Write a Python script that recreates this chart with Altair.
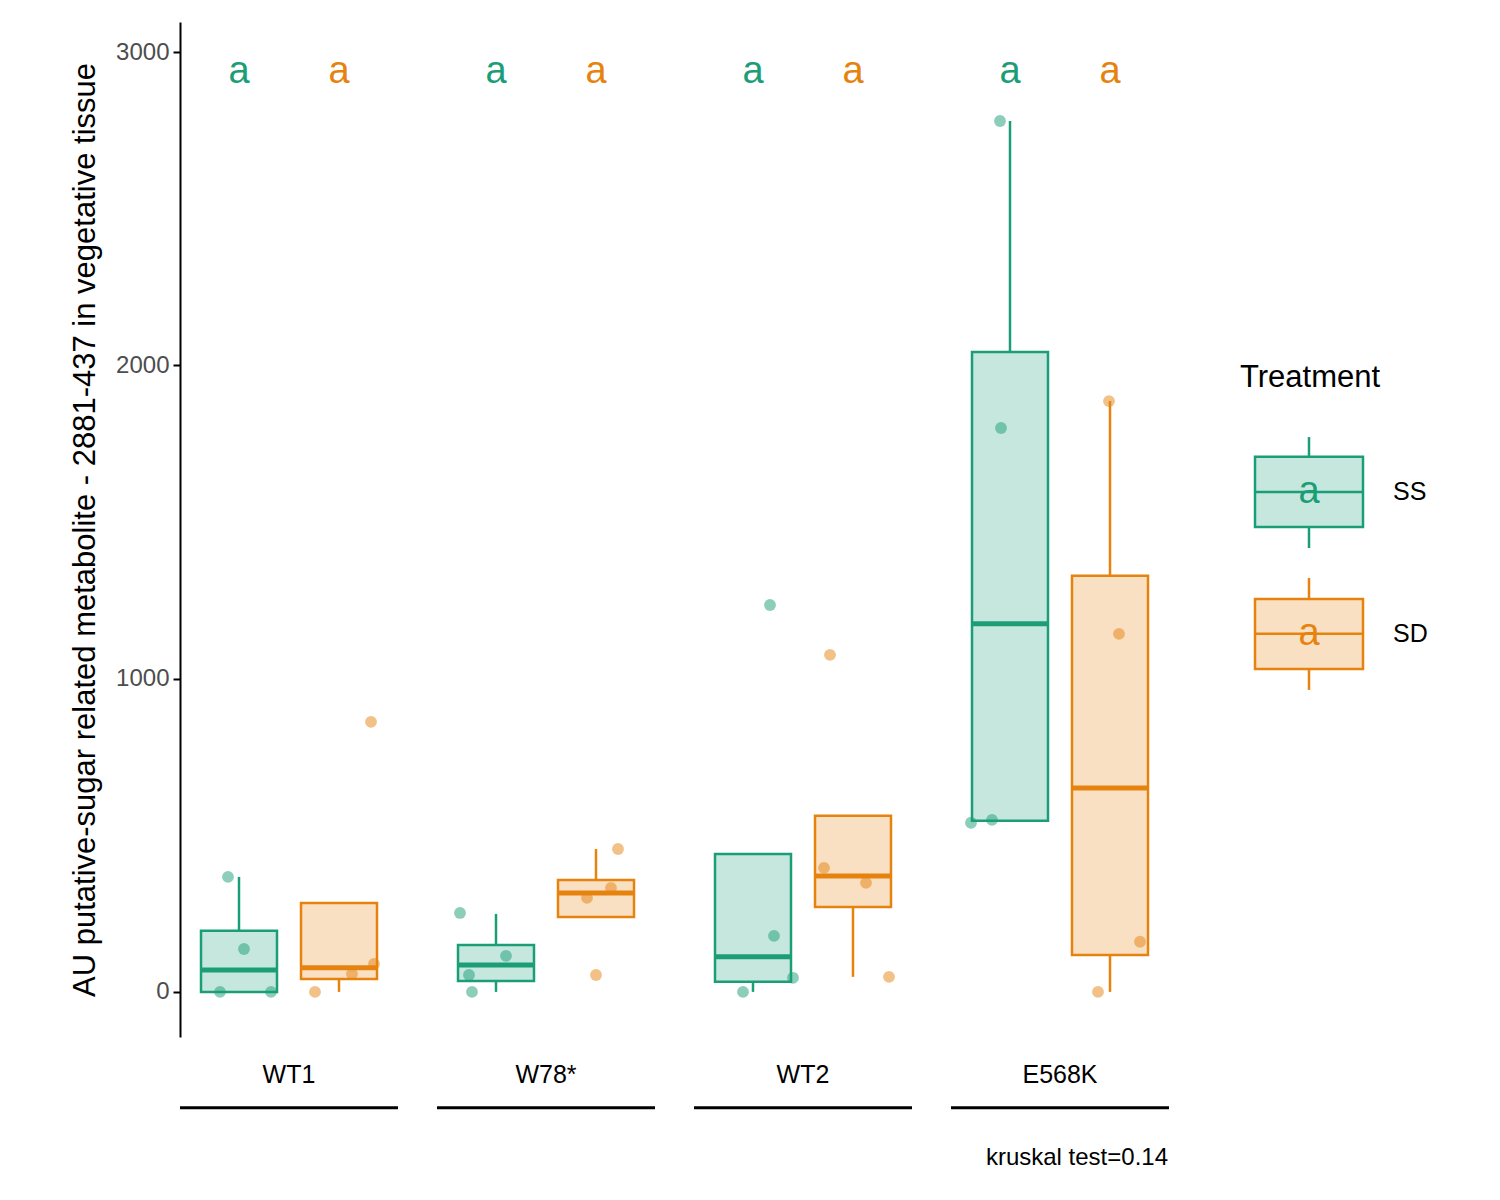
import altair as alt
import pandas as pd

genotypes = ["WT1", "W78*", "WT2", "E568K"]
treatments = ["SS", "SD"]
colors = ["#1b9e77", "#e6830f"]

# box stats per (genotype, treatment): lower whisker, q1, median, q3, upper whisker
lo  = [0, 0,   0,   239, 0,   48,  546,  0]
q1  = [0, 41,  35,  239, 32,  271, 546,  118]
med = [70, 77, 86,  316, 112, 370, 1175, 651]
q3  = [195, 284, 150, 357, 440, 562, 2043, 1328]
hi  = [367, 284, 249, 456, 440, 562, 2780, 1886]

# raw points and horizontal jitter, 4 per box
values = [
    [367, 137, 0, 0], [0, 57, 89, 862],
    [252, 115, 54, 0], [456, 332, 300, 54],
    [1235, 179, 45, 0], [1076, 396, 348, 48],
    [2780, 1800, 549, 540], [1886, 1143, 160, 0],
]
jitter = [
    [-0.11, 0.05, -0.19, 0.32], [-0.24, 0.13, 0.35, 0.32],
    [-0.36, 0.10, -0.27, -0.24], [0.22, 0.15, -0.09, 0.0],
    [0.17, 0.21, 0.40, -0.10], [-0.23, -0.29, 0.13, 0.36],
    [-0.10, -0.09, -0.18, -0.39], [-0.01, 0.09, 0.30, -0.12],
]
letters = ["a"] * 8

group_gap, pair_gap, half = 2.57, 1.0, 0.38
rows, pts = [], []
for i in range(8):
    g, t = i // 2, i % 2
    cx = g * group_gap + t * pair_gap
    rows.append(dict(Treatment=treatments[t], x=cx, xl=cx - half, xr=cx + half,
                     lo=lo[i], q1=q1[i], med=med[i], q3=q3[i], hi=hi[i], letter=letters[i]))
    for v, j in zip(values[i], jitter[i]):
        pts.append(dict(Treatment=treatments[t], x=cx + j, y=v))
boxes = pd.DataFrame(rows)
points = pd.DataFrame(pts)

xs = alt.Scale(domain=[-0.59, 9.31], nice=False, zero=False)
ys = alt.Scale(domain=[-144, 3096], nice=False, zero=False)
col = alt.Color("Treatment:N", scale=alt.Scale(domain=treatments, range=colors), legend=None)
strk = alt.Stroke("Treatment:N", scale=alt.Scale(domain=treatments, range=colors), legend=None)
X = lambda f: alt.X(f, scale=xs, axis=None)

base = alt.Chart(boxes)
whisk_lo = base.mark_rule(strokeWidth=2.5).encode(x=X("x:Q"), y=alt.Y("lo:Q", scale=ys), y2="q1:Q", color=col)
whisk_hi = base.mark_rule(strokeWidth=2.5).encode(x=X("x:Q"), y=alt.Y("q3:Q", scale=ys), y2="hi:Q", color=col)
box = base.mark_rect(strokeWidth=2.5, fillOpacity=0.25).encode(
    x=X("xl:Q"), x2="xr:Q", y=alt.Y("q1:Q", scale=ys), y2="q3:Q", fill=col, stroke=strk)
median = base.mark_rule(strokeWidth=5).encode(x=X("xl:Q"), x2="xr:Q", y=alt.Y("med:Q", scale=ys), color=col)
dots = alt.Chart(points).mark_circle(size=140, opacity=0.5).encode(
    x=X("x:Q"),
    y=alt.Y("y:Q", scale=ys,
            title="AU putative-sugar related metabolite - 2881-437 in vegetative tissue",
            axis=alt.Axis(values=[0, 1000, 2000, 3000], format="d", grid=False, domainColor="black",
                          domainWidth=2, tickColor="black", tickWidth=2, tickSize=7,
                          labelFontSize=24, labelColor="#4d4d4d", titleFontSize=31,
                          titleFontWeight="normal", titleColor="black", labelPadding=4,
                          titlePadding=14)),
    color=col)
lett = base.mark_text(fontSize=38, baseline="middle").encode(
    x=X("x:Q"), y=alt.Y("ly:Q", scale=ys), text="letter:N", color=col
).transform_calculate(ly="2936")

gdf = pd.DataFrame(dict(g=genotypes, c=[k * group_gap + 0.5 for k in range(4)]))
gdf["l"] = gdf["c"] - 1.09
gdf["r"] = gdf["c"] + 1.09
glab = alt.Chart(gdf).mark_text(fontSize=25, baseline="middle").encode(
    x=X("c:Q"), y=alt.Y("yy:Q", scale=ys), text="g:N").transform_calculate(yy="-265")
gline = alt.Chart(gdf).mark_rule(strokeWidth=3, color="black").encode(
    x=X("l:Q"), x2="r:Q", y=alt.Y("yy:Q", scale=ys)).transform_calculate(yy="-370")
kr = alt.Chart(pd.DataFrame(dict(t=["kruskal test=0.14"]))).mark_text(
    fontSize=24, align="right", baseline="middle").encode(
    x=alt.value(988), y=alt.Y("yy:Q", scale=ys), text="t:N").transform_calculate(yy="-530")

# hand-made legend
leg = boxes[["Treatment", "letter"]].drop_duplicates("Treatment").reset_index(drop=True)
leg["lo"] = [1417, 964]; leg["q1"] = [1484, 1031]; leg["med"] = [1596, 1143]
leg["q3"] = [1708, 1254]; leg["hi"] = [1771, 1321]
leg["x"] = 10.7; leg["xl"] = 10.16; leg["xr"] = 11.24; leg["tx"] = 11.54
lb = alt.Chart(leg)
leg_layers = [
    lb.mark_rule(strokeWidth=2.5).encode(x=X("x:Q"), y=alt.Y("lo:Q", scale=ys), y2="hi:Q", color=col),
    lb.mark_rect(strokeWidth=2.5, fill="white").encode(x=X("xl:Q"), x2="xr:Q", y=alt.Y("q1:Q", scale=ys), y2="q3:Q"),
    lb.mark_rect(strokeWidth=2.5, fillOpacity=0.25).encode(
        x=X("xl:Q"), x2="xr:Q", y=alt.Y("q1:Q", scale=ys), y2="q3:Q", fill=col, stroke=strk),
    lb.mark_rule(strokeWidth=2.5).encode(x=X("xl:Q"), x2="xr:Q", y=alt.Y("med:Q", scale=ys), color=col),
    lb.mark_text(fontSize=38, baseline="middle").encode(x=X("x:Q"), y=alt.Y("med:Q", scale=ys), text="letter:N", color=col),
    lb.mark_text(fontSize=25, align="left", baseline="middle").encode(x=X("tx:Q"), y=alt.Y("med:Q", scale=ys), text="Treatment:N"),
    alt.Chart(pd.DataFrame(dict(t=["Treatment"]))).mark_text(fontSize=31, align="left", baseline="middle").encode(
        x=alt.value(1060), y=alt.Y("yy:Q", scale=ys), text="t:N").transform_calculate(yy="1960"),
]

chart = alt.layer(dots, whisk_lo, whisk_hi, box, median, lett, glab, gline, kr, *leg_layers).properties(
    width=990, height=1015,
    autosize=alt.AutoSizeParams(type="none"),
    padding={"left": 172, "top": 14, "right": 320, "bottom": 150},
).configure(font="Liberation Sans").configure_view(stroke=None)

chart.save("out.html", embed_options={"renderer": "svg", "actions": False})
